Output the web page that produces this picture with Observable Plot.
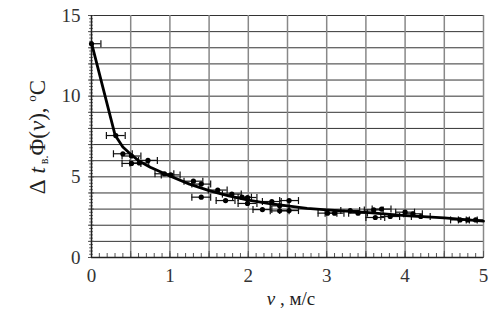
<!DOCTYPE html>
<html>
<head>
<meta charset="utf-8">
<script src="https://cdn.jsdelivr.net/npm/d3@7"></script>
<script src="https://cdn.jsdelivr.net/npm/@observablehq/plot@0.6"></script>
<style>
  html, body { margin: 0; padding: 0; background: white; }
  svg text { font-family: "Liberation Serif", "Times New Roman", serif; }
</style>
</head>
<body>
<div id="chart"></div>
<script>
// Fitted curve
const curveV = [0, 0.3, 0.4, 0.5, 0.6, 0.75, 1.0, 1.25, 1.5, 1.75, 2.0, 2.25, 2.5, 2.75, 3.0, 3.5, 4.0, 4.5, 5.0];
const curveT = [13.3, 7.6, 6.85, 6.4, 6.0, 5.6, 5.05, 4.55, 4.15, 3.82, 3.55, 3.35, 3.2, 3.05, 2.95, 2.8, 2.6, 2.45, 2.25];

// Measured points
const pointV = [0.0, 0.31, 0.40, 0.51, 0.51, 0.61, 0.72, 0.93, 1.01, 1.30, 1.40, 1.40, 1.61, 1.71, 1.79, 1.92, 1.99, 1.99,
                2.18, 2.30, 2.40, 2.40, 2.52, 2.52, 3.01, 3.10, 3.30, 3.40, 3.60, 3.62, 3.70, 3.81, 4.00, 4.10, 4.20, 4.70, 4.80, 4.90];
const pointT = [13.25, 7.56, 6.43, 6.29, 5.83, 5.86, 6.02, 5.19, 5.12, 4.73, 4.55, 3.74, 4.18, 3.53, 3.93, 3.74, 3.72, 3.35,
                2.97, 3.47, 3.20, 2.89, 3.53, 2.91, 2.75, 2.75, 2.91, 2.75, 2.95, 2.48, 3.00, 2.54, 2.81, 2.71, 2.54, 2.33, 2.33, 2.33];
const errV = 0.12;

const xTickLabels = [0, 1, 2, 3, 4, 5];
const yTickLabels = [0, 5, 10, 15];

const curve = curveV.map((v, i) => ({v, T: curveT[i]}));
const points = pointV.map((v, i) => ({v, T: pointT[i]}));

const serif = "Liberation Serif";

const capSymbol = {
  draw(context, size) {
    const r = Math.sqrt(size / Math.PI);
    context.moveTo(0, -r);
    context.lineTo(0, r);
  }
};

const chart = Plot.plot({
  width: 500,
  height: 319,
  marginLeft: 91,
  marginRight: 17,
  marginTop: 15,
  marginBottom: 62,
  x: {domain: [0, 5]},
  y: {domain: [0, 15]},
  style: {fontFamily: serif, fontSize: "19px", color: "#333", background: "white"},
  marks: [
    Plot.gridY(d3.range(1, 16), {stroke: "#333", strokeOpacity: 1, strokeWidth: 1}),
    Plot.gridX(d3.range(0.5, 5.01, 0.5), {stroke: "#888", strokeOpacity: 1, strokeWidth: 1.5}),
    // minor / major ticks
    Plot.axisX(d3.range(0, 5.001, 0.1), {tickSize: 4, dy: -4, tickFormat: () => "", label: null, stroke: "#555"}),
    Plot.axisX(d3.range(0, 5.001, 0.5), {tickSize: 7, dy: -6, tickFormat: () => "", label: null, stroke: "#555"}),
    Plot.axisY(d3.range(0, 15.001, 0.2), {tickSize: 4, dx: 2, tickFormat: () => "", label: null, stroke: "#777"}),
    Plot.axisY(d3.range(0, 15.001, 1), {tickSize: 6, dx: 3, tickFormat: () => "", label: null, stroke: "#555"}),
    Plot.axisX(xTickLabels, {tickSize: 0, tickPadding: 11, label: null, fontSize: 19, fontFamily: serif}),
    Plot.axisY(yTickLabels, {tickSize: 0, tickPadding: 11, label: null, fontSize: 19, fontFamily: serif}),
    Plot.ruleX([0], {stroke: "#222", strokeWidth: 1.5}),
    Plot.ruleY([0], {stroke: "#222", strokeWidth: 1.5}),
    // error bars
    Plot.ruleY(points, {x1: d => d.v - errV, x2: d => d.v + errV, y: "T", stroke: "#111", strokeWidth: 1.2, clip: true}),
    Plot.dot(points, {x: d => d.v - errV, y: "T", symbol: capSymbol, r: 3.5, stroke: "#111", strokeWidth: 1.2, clip: true}),
    Plot.dot(points, {x: d => d.v + errV, y: "T", symbol: capSymbol, r: 3.5, stroke: "#111", strokeWidth: 1.2, clip: true}),
    Plot.dot(points, {x: "v", y: "T", r: 2.6, fill: "#000", stroke: null}),
    Plot.line(curve, {x: "v", y: "T", curve: "linear", stroke: "#000", strokeWidth: 2.8, strokeLinejoin: "round"})
  ]
});

const svg = d3.select(chart);
// Y axis title
const yt = svg.append("text")
  .attr("transform", "translate(45,137) rotate(-90)")
  .attr("text-anchor", "middle")
  .attr("font-family", serif)
  .attr("font-size", 23)
  .attr("fill", "#222");
yt.append("tspan").text("Δ");
yt.append("tspan").attr("font-style", "italic").text(" t");
yt.append("tspan").attr("font-size", 12).attr("dy", 3).text(" в.");
yt.append("tspan").attr("dy", -3).text("Φ(");
yt.append("tspan").attr("font-style", "italic").text("v");
yt.append("tspan").text("), ");
yt.append("tspan").attr("font-size", 13).attr("dy", -9).text("o");
yt.append("tspan").attr("dy", 9).text("C");

// X axis title
const xt = svg.append("text")
  .attr("x", 291)
  .attr("y", 305)
  .attr("text-anchor", "middle")
  .attr("font-family", serif)
  .attr("font-size", 19)
  .attr("fill", "#222");
xt.append("tspan").attr("font-style", "italic").text("v");
xt.append("tspan").text(" , м/с");

document.getElementById("chart").appendChild(chart);
</script>
</body>
</html>
